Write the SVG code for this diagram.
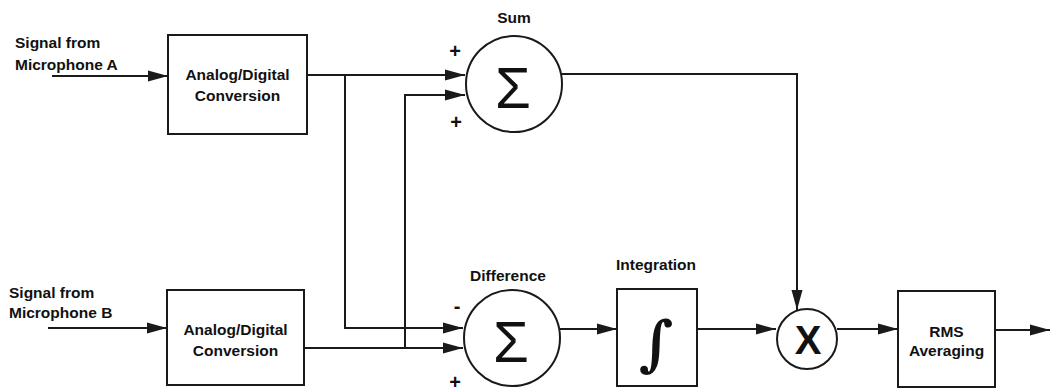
<svg xmlns="http://www.w3.org/2000/svg" width="1051" height="391" viewBox="0 0 1051 391">
<style>
.box{fill:#fff;stroke:#1a1a1a;stroke-width:2}
.ln{fill:none;stroke:#1a1a1a;stroke-width:2;marker-end:url(#arr)}
.t{font-family:"Liberation Sans",Arial,sans-serif;font-weight:bold;font-size:15.5px;fill:#111}
.c{text-anchor:middle}
.sg{font-family:"Liberation Sans",Arial,sans-serif;font-size:58px;fill:#111;text-anchor:middle}
.sym{font-family:"Liberation Sans",Arial,sans-serif;font-weight:bold;font-size:20px;fill:#111;text-anchor:middle}
</style>
<defs>
<marker id="arr" markerWidth="20" markerHeight="12" refX="20" refY="6" orient="auto" markerUnits="userSpaceOnUse">
<path d="M0,0.5 L20,6 L0,11.5 z" fill="#1a1a1a"/>
</marker>
</defs>
<rect width="1051" height="391" fill="#fff"/>
<g id="connectors">
<line class="ln" x1="52" y1="76" x2="168" y2="76"/>
<line class="ln" x1="48" y1="328" x2="167" y2="328"/>
<polyline class="ln" points="307,75 465,75"/>
<polyline class="ln" points="345,75 345,328 463,328"/>
<polyline class="ln" points="304,348 463,348"/>
<polyline class="ln" points="405,348 405,95 465,95"/>
<polyline class="ln" points="562,74 797,74 797,310"/>
<line class="ln" x1="560" y1="329" x2="617" y2="329"/>
<line class="ln" x1="697" y1="329" x2="776" y2="329"/>
<line class="ln" x1="837" y1="329" x2="898" y2="329"/>
<line class="ln" x1="995" y1="330" x2="1050" y2="330"/>
</g>
<g id="labelA">
<text class="t" x="15" y="48">Signal from</text>
<text class="t" x="15" y="70">Microphone A</text>
</g>
<g id="labelB">
<text class="t" x="9" y="298">Signal from</text>
<text class="t" x="9" y="318">Microphone B</text>
</g>
<g id="adcA">
<rect class="box" x="168" y="35" width="139" height="99"/>
<text class="t c" x="237.5" y="80">Analog/Digital</text>
<text class="t c" x="237.5" y="101">Conversion</text>
</g>
<g id="adcB">
<rect class="box" x="167" y="290" width="137" height="95"/>
<text class="t c" x="235.5" y="335">Analog/Digital</text>
<text class="t c" x="235.5" y="356">Conversion</text>
</g>
<g id="sum">
<circle class="box" cx="514" cy="84" r="48"/>
<text class="sg" x="513" y="108">Σ</text>
<text class="t c" x="514" y="23">Sum</text>
<text class="sym" x="455" y="58">+</text>
<text class="sym" x="456" y="129">+</text>
</g>
<g id="difference">
<circle class="box" cx="512" cy="338" r="48"/>
<text class="sg" x="511" y="362">Σ</text>
<text class="t c" x="508" y="281">Difference</text>
<text class="sym" x="457" y="313">-</text>
<text class="sym" x="455" y="389">+</text>
</g>
<g id="integration">
<rect class="box" x="617" y="289" width="80" height="97"/>
<text x="656" y="364" style="font-family:'DejaVu Serif',serif;font-weight:bold;font-size:60px;fill:#111;text-anchor:middle">∫</text>
<text class="t c" x="656" y="270">Integration</text>
</g>
<g id="multiply">
<circle class="box" cx="807" cy="339" r="30"/>
<text x="808" y="354" style="font-family:'Liberation Sans',Arial,sans-serif;font-weight:bold;font-size:40px;fill:#111;text-anchor:middle">X</text>
</g>
<g id="rms">
<rect class="box" x="898" y="291" width="97" height="96"/>
<text class="t c" x="946.5" y="337">RMS</text>
<text class="t c" x="946.5" y="356">Averaging</text>
</g>
</svg>
